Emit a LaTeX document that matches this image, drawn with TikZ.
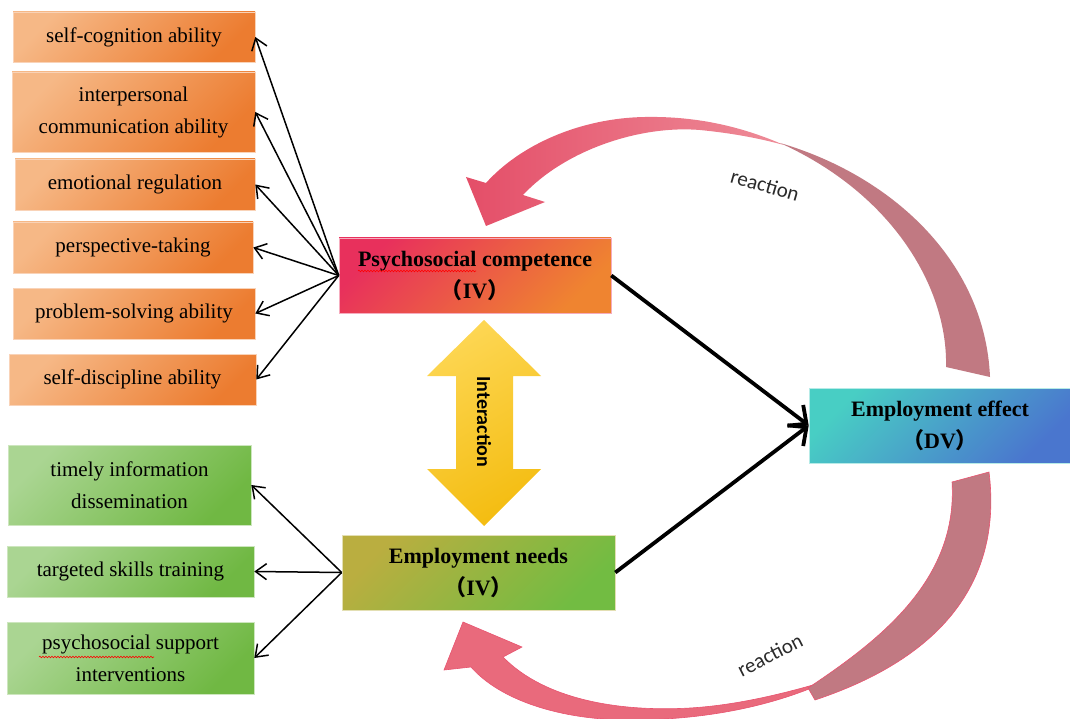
\documentclass[tikz,border=0pt]{standalone}
\usepackage{fontspec}
\setmainfont{Liberation Serif}
\newfontfamily\cjk{Noto Sans CJK SC}
\newfontfamily\calfont{Carlito}
\usetikzlibrary{arrows.meta,decorations.pathmorphing,calc}
\definecolor{oL}{HTML}{F6B886}
\definecolor{oD}{HTML}{EC7C30}
\definecolor{oB}{HTML}{F9D3B8}
\definecolor{gL}{HTML}{AAD592}
\definecolor{gD}{HTML}{70B843}
\definecolor{gB}{HTML}{CDE6BE}
\definecolor{pcL}{HTML}{E8305C}
\definecolor{pcD}{HTML}{EF8430}
\definecolor{enL}{HTML}{BAAE40}
\definecolor{enD}{HTML}{72BC42}
\definecolor{eeL}{HTML}{48CEC4}
\definecolor{eeD}{HTML}{4A76CE}
\definecolor{yL}{HTML}{FDD652}
\definecolor{yD}{HTML}{F4BD12}
\definecolor{rHead}{HTML}{E44E68}
\definecolor{rTop}{HTML}{EE8C98}
\definecolor{rMauve}{HTML}{C17982}
\definecolor{rPink}{HTML}{E96A7C}
\definecolor{rEdge}{HTML}{E85470}
\definecolor{txtgray}{HTML}{2A2A2A}
\begin{document}
\begin{tikzpicture}[x=1pt,y=-1pt,
  basebox/.style={rectangle, inner sep=0pt, align=center, shading angle=45},
  obox/.style={basebox, top color=oL, bottom color=oD, shading angle=45, draw=oB, line width=0.6pt, font=\fontsize{21}{32}\selectfont},
  gbox/.style={basebox, top color=gL, bottom color=gD, shading angle=45, draw=gB, line width=0.6pt, font=\fontsize{21}{32}\selectfont},
  mainbox/.style={basebox, font=\fontsize{22}{32}\selectfont\bfseries, line width=0.6pt},
  thin arrow/.style={draw=black, line width=1.5pt, -{Straight Barb[length=11pt,width=16pt,line width=1.5pt]}},
  thick arrow/.style={draw=black, line width=3.8pt, -{Straight Barb[length=14pt,width=26pt,line width=3.8pt]}},
  reactlabel/.style={font=\calfont\fontsize{21}{24}\selectfont, text=txtgray, inner sep=0pt},
  squiggle/.style={draw=red, line width=0.6pt, decorate, decoration={snake, amplitude=0.8pt, segment length=3pt}}
]
\useasboundingbox (0,0) rectangle (1070,719);

% ---- orange boxes
\node[obox, minimum width=242, minimum height=50] (o1) at (134,37) {self-cognition ability};
\node[obox, minimum width=243, minimum height=80] (o2) at (133.5,112) {interpersonal\\communication ability};
\node[obox, minimum width=240, minimum height=51] (o3) at (135,184.5) {emotional regulation};
\node[obox, minimum width=240, minimum height=51] (o4) at (133,247.5) {perspective-taking};
\node[obox, minimum width=242, minimum height=51] (o5) at (134,313.5) {problem-solving ability};
\node[obox, minimum width=247, minimum height=51] (o6) at (132.5,379.5) {self-discipline ability};

% ---- green boxes
\node[gbox, minimum width=243, minimum height=80] (g1) at (129.5,485) {timely information\\dissemination};
\node[gbox, minimum width=247, minimum height=51] (g2) at (130.5,571.5) {targeted skills training};
\node[gbox, minimum width=247, minimum height=72] (g3) at (130.5,658) {psychosocial support\\interventions};

% ---- main boxes
\node[mainbox, minimum width=272, minimum height=75, top color=pcL, bottom color=pcD, shading angle=45, draw=pcL!40!white] (pc) at (475,275.5)
  {Psychosocial competence\\{\cjk （}IV{\cjk ）}};
\node[mainbox, minimum width=273, minimum height=75, top color=enL, bottom color=enD, shading angle=45, draw=enL!40!white] (en) at (478.5,572.5)
  {Employment needs\\{\cjk （}IV{\cjk ）}};
\node[mainbox, minimum width=262, minimum height=75, top color=eeL, bottom color=eeD, shading angle=45, draw=eeL!40!white] (ee) at (940,425.5)
  {Employment effect\\{\cjk （}DV{\cjk ）}};

% spelling underlines
\path[squiggle] (358,271) -- (476,271);
\path[squiggle] (39,657) -- (154,657);

% ---- thin arrows
\foreach \b in {o1,o2,o3,o4,o5,o6} {
  \draw[thin arrow] (pc.west) -- (\b.east);
}
\foreach \b in {g1,g2,g3} {
  \draw[thin arrow] (en.west) -- (\b.east);
}

% ---- thick arrows
\draw[thick arrow] (pc.east) -- (ee.west);
\draw[thick arrow] (en.east) -- (ee.west);

% ---- interaction double arrow
\shade[top color=yL, bottom color=yD, shading angle=30]
  (484,320) -- (541,376) -- (513,376) -- (513,469) -- (541,469) -- (484,526)
  -- (427,469) -- (456,469) -- (456,376) -- (427,376) -- cycle;
\node[rotate=-90, font=\calfont\bfseries\fontsize{20}{22}\selectfont, inner sep=0pt] (inter) at (484,422) {Interaction};

% ---- top reaction arrow
\shade[left color=rHead, right color=rTop]
  (486,226) -- (545,202) -- (523,195)
  .. controls (565,150) and (640,125) .. (700,130)
  .. controls (740,134) and (765,140) .. (784,145)
  .. controls (745,128) and (700,116) .. (645,117)
  .. controls (580,118) and (520,145) .. (486,183)
  -- (466,177) -- cycle;
\fill[rMauve]
  (780,143) .. controls (890,175) and (985,260) .. (990,377)
  -- (946,367)
  .. controls (948,290) and (895,195) .. (780,143) -- cycle;
\node[reactlabel, rotate=-16] (r1) at (765,185) {reaction};

% ---- bottom reaction arrow
\fill[rPink, draw=rEdge, line width=0.6pt]
  (463,622) -- (522,647) -- (503,657)
  .. controls (545,700) and (620,712) .. (690,708)
  .. controls (740,705) and (790,692) .. (830,680)
  .. controls (770,708) and (700,720) .. (630,720)
  .. controls (560,720) and (500,700) .. (471,667)
  -- (444,670) -- cycle;
\fill[rMauve, draw=rEdge, line width=0.6pt]
  (808,688) .. controls (880,640) and (958,580) .. (952,482)
  -- (989,472)
  .. controls (1000,560) and (965,650) .. (815,700) -- cycle;
\node[reactlabel, rotate=27] (r2) at (770,655) {reaction};
\end{tikzpicture}
\end{document}
